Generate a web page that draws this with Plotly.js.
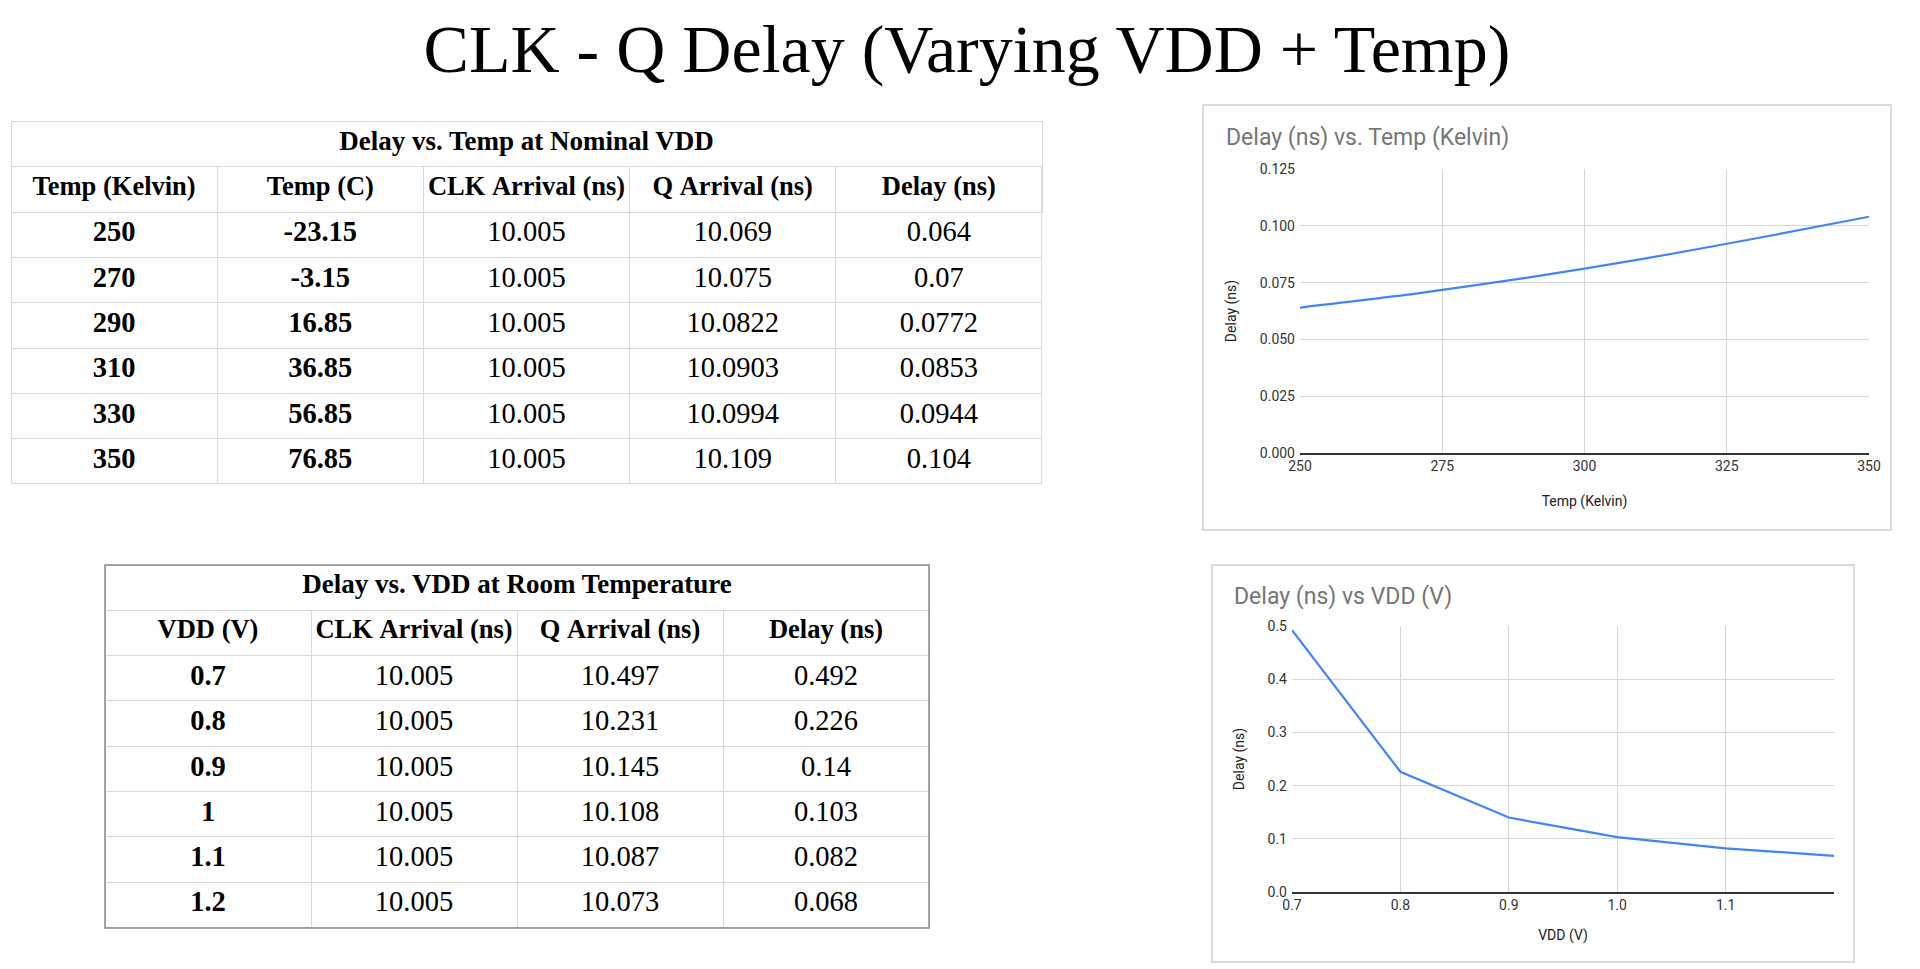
<!DOCTYPE html>
<html>
<head>
<meta charset="utf-8">
<script src="https://cdn.plot.ly/plotly-3.0.1.min.js"></script>
<style>
  html, body { margin: 0; padding: 0; background: #ffffff; }
  #chart { width: 1920px; height: 969px; }
</style>
</head>
<body>
<div id="chart"></div>
<script>
// ---- data ----------------------------------------------------------------
const pageTitle = 'CLK - Q Delay (Varying VDD + Temp)';

const tempTableTitle = 'Delay vs. Temp at Nominal VDD';
const tempColumns = ['Temp (Kelvin)', 'Temp (C)', 'CLK Arrival (ns)', 'Q Arrival (ns)', 'Delay (ns)'];
const tempK       = [250, 270, 290, 310, 330, 350];
const tempC       = [-23.15, -3.15, 16.85, 36.85, 56.85, 76.85];
const clkArrivalT = [10.005, 10.005, 10.005, 10.005, 10.005, 10.005];
const qArrivalT   = [10.069, 10.075, 10.0822, 10.0903, 10.0994, 10.109];
const delayT      = [0.064, 0.07, 0.0772, 0.0853, 0.0944, 0.104];

const vddTableTitle = 'Delay vs. VDD at Room Temperature';
const vddColumns  = ['VDD (V)', 'CLK Arrival (ns)', 'Q Arrival (ns)', 'Delay (ns)'];
const vdd         = [0.7, 0.8, 0.9, 1, 1.1, 1.2];
const clkArrivalV = [10.005, 10.005, 10.005, 10.005, 10.005, 10.005];
const qArrivalV   = [10.497, 10.231, 10.145, 10.108, 10.087, 10.073];
const delayV      = [0.492, 0.226, 0.14, 0.103, 0.082, 0.068];

const tempChartTitle = 'Delay (ns) vs. Temp (Kelvin)';
const vddChartTitle  = 'Delay (ns) vs VDD (V)';
const delayAxisTitle = 'Delay (ns)';
const tempAxisTitle  = 'Temp (Kelvin)';
const vddAxisTitle   = 'VDD (V)';
const tempTicks = [250, 275, 300, 325, 350];
const vddTicks  = [0.7, 0.8, 0.9, 1.0, 1.1];

// ---- page geometry helpers (pixels -> paper fractions) --------------------
const W = 1920, H = 969;
const fx = p => p / W;
const fy = p => 1 - p / H;

const serif = 'Liberation Serif, Times New Roman, serif';
const sans = 'Roboto, Arial, sans-serif';
const cellLine = '#d9d9d9';
const gridColor = '#d6d6d6';
const blue = '#4285F4';
const ROW = 45.3;

const text = a => a.map(v => String(v));
// keep each header on one line (the table wraps on plain spaces)
const oneLine = a => a.map(s => s.replace(/ /g, '\u00a0'));

// Title band of a table: a one-column table whose header spans the full width.
function titleRow(label, x0, x1, top) {
  return {
    type: 'table',
    domain: { x: [fx(x0), fx(x1)], y: [fy(top + ROW * 2 + 4), fy(top)] },
    columnwidth: [1],
    header: {
      values: [label],
      height: ROW, align: 'center',
      line: { color: cellLine, width: 1 },
      fill: { color: '#ffffff' },
      font: { family: serif, size: 27, color: '#000000', weight: 'bold' }
    },
    cells: {
      values: [['']], height: ROW,
      line: { color: cellLine, width: 1 },
      fill: { color: '#ffffff' }
    }
  };
}

function dataTable(columns, cols, boldCols, x0, x1, top) {
  return {
    type: 'table',
    domain: { x: [fx(x0), fx(x1)], y: [fy(top + ROW * 7 + 30), fy(top)] },
    header: {
      values: oneLine(columns),
      height: ROW, align: 'center',
      line: { color: cellLine, width: 1 },
      fill: { color: '#ffffff' },
      font: { family: serif, size: 26.5, color: '#000000', weight: 'bold' }
    },
    cells: {
      values: cols,
      height: ROW, align: 'center',
      line: { color: cellLine, width: 1 },
      fill: { color: '#ffffff' },
      font: {
        family: serif, size: 28.5, color: '#000000',
        weight: cols.map((c, i) => (i < boldCols ? 'bold' : 'normal'))
      }
    }
  };
}

const traces = [
  titleRow(tempTableTitle, 11, 1042, 121.5),
  dataTable(tempColumns,
    [text(tempK), text(tempC), text(clkArrivalT), text(qArrivalT), text(delayT)], 2,
    11, 1042, 166.8),
  titleRow(vddTableTitle, 105, 929, 565),
  dataTable(vddColumns,
    [text(vdd), text(clkArrivalV), text(qArrivalV), text(delayV)], 1,
    105, 929, 610.3),
  {
    type: 'scatter', mode: 'lines', x: tempK, y: delayT,
    xaxis: 'x', yaxis: 'y', hoverinfo: 'skip',
    line: { color: blue, width: 2.2, shape: 'spline', smoothing: 0.6 }
  },
  {
    type: 'scatter', mode: 'lines', x: vdd, y: delayV,
    xaxis: 'x2', yaxis: 'y2', hoverinfo: 'skip',
    line: { color: blue, width: 2.2 }
  }
];

const tickFont = { family: sans, size: 14, color: '#333333' };
const axisTitleFont = { family: sans, size: 14, color: '#222222' };

function xAxis(domain, anchor, range, ticks, fmt, title, standoff) {
  return {
    domain: domain, anchor: anchor, range: range,
    tickmode: 'array', tickvals: ticks, tickformat: fmt,
    showgrid: true, gridcolor: gridColor, gridwidth: 1,
    zeroline: false, showline: true, linecolor: '#333333', linewidth: 1.5,
    ticks: '', tickfont: tickFont, automargin: false, fixedrange: true,
    title: { text: title, font: axisTitleFont, standoff: standoff }
  };
}
function yAxis(domain, anchor, range, dtick, fmt, title, standoff) {
  return {
    domain: domain, anchor: anchor, range: range,
    tick0: 0, dtick: dtick, tickformat: fmt,
    showgrid: true, gridcolor: gridColor, gridwidth: 1,
    zeroline: false, showline: false, ticklabelstandoff: 4,
    ticks: '', tickfont: tickFont, automargin: false, fixedrange: true,
    title: { text: title, font: axisTitleFont, standoff: standoff }
  };
}

const layout = {
  width: W, height: H,
  margin: { l: 0, r: 0, t: 0, b: 0 },
  paper_bgcolor: '#ffffff', plot_bgcolor: '#ffffff',
  showlegend: false,
  title: {
    text: pageTitle,
    font: { family: serif, size: 68, color: '#000000' },
    x: 967 / W, xanchor: 'center',
    y: fy(48), yanchor: 'middle', yref: 'container'
  },
  xaxis:  xAxis([fx(1300), fx(1869)], 'y',  [250, 350], tempTicks, 'd', tempAxisTitle, 23),
  yaxis:  yAxis([fy(453), fy(169)],   'x',  [0, 0.125], 0.025, '.3f', delayAxisTitle, 19),
  xaxis2: xAxis([fx(1292), fx(1834)], 'y2', [0.7, 1.2], vddTicks, '.1f', vddAxisTitle, 18),
  yaxis2: yAxis([fy(892), fy(626)],   'x2', [0, 0.5], 0.1, '.1f', delayAxisTitle, 19),
  annotations: [
    { text: tempChartTitle, xref: 'paper', yref: 'paper', x: fx(1224), y: fy(138),
      xanchor: 'left', yanchor: 'middle', showarrow: false,
      font: { family: sans, size: 23, color: '#757575' } },
    { text: vddChartTitle, xref: 'paper', yref: 'paper', x: fx(1232), y: fy(596),
      xanchor: 'left', yanchor: 'middle', showarrow: false,
      font: { family: sans, size: 23, color: '#757575' } }
  ],
  shapes: [
    // chart frames
    { type: 'rect', xref: 'paper', yref: 'paper', layer: 'below',
      x0: fx(1203), x1: fx(1891), y0: fy(530), y1: fy(105),
      line: { color: '#cfcfcf', width: 1.5 }, fillcolor: 'rgba(0,0,0,0)' },
    { type: 'rect', xref: 'paper', yref: 'paper', layer: 'below',
      x0: fx(1212), x1: fx(1854), y0: fy(962), y1: fy(565),
      line: { color: '#cfcfcf', width: 1.5 }, fillcolor: 'rgba(0,0,0,0)' },
    // darker outline around the VDD table
    { type: 'rect', xref: 'paper', yref: 'paper', layer: 'above',
      x0: fx(105), x1: fx(929), y0: fy(928), y1: fy(565),
      line: { color: '#8a8a8a', width: 1.5 }, fillcolor: 'rgba(0,0,0,0)' }
  ]
};

Plotly.newPlot('chart', traces, layout, { staticPlot: true, displayModeBar: false });
</script>
</body>
</html>
